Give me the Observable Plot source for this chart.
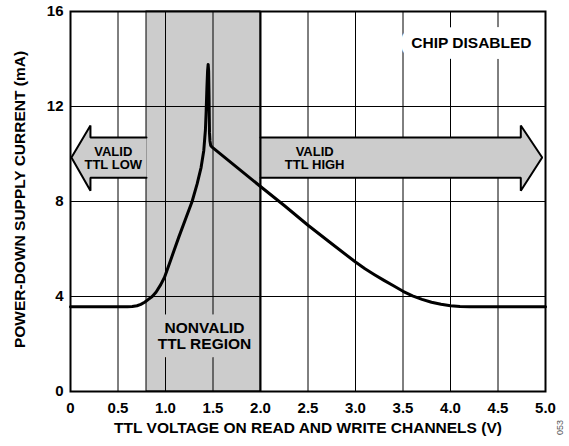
<!DOCTYPE html>
<html>
<head>
<meta charset="utf-8">
<script src="https://cdn.jsdelivr.net/npm/d3@7"></script>
<script src="https://cdn.jsdelivr.net/npm/@observablehq/plot@0.6"></script>
<style>
  html, body { margin: 0; padding: 0; background: #fff; }
</style>
</head>
<body>
<div id="chart"></div>
<script>
// Curve: power-down supply current (mA) vs TTL voltage (V)
const voltage = [0, 0.6, 0.65, 0.70, 0.74, 0.78, 0.82, 0.86, 0.90, 0.95, 0.99, 1.053, 1.14, 1.218, 1.28, 1.333, 1.375, 1.403, 1.414, 1.42, 1.428, 1.436, 1.443, 1.449, 1.454, 1.458, 1.461, 1.463, 1.468, 1.476, 1.49, 2.0, 2.25, 2.5, 2.75, 3.0, 3.1, 3.2, 3.3, 3.4, 3.5, 3.6, 3.7, 3.8, 3.9, 4.0, 4.1, 4.2, 5.0];
const current = [3.57, 3.57, 3.575, 3.61, 3.67, 3.76, 3.88, 4.0, 4.18, 4.5, 4.81, 5.52, 6.5, 7.34, 8.0, 8.74, 9.44, 10.15, 10.71, 11.0, 11.8, 12.8, 13.5, 13.77, 13.5, 12.5, 11.5, 10.9, 10.55, 10.36, 10.29, 8.63, 7.83, 7.0, 6.22, 5.45, 5.17, 4.92, 4.68, 4.45, 4.22, 4.03, 3.88, 3.76, 3.67, 3.61, 3.58, 3.57, 3.57];

// Axis ticks and grid
const xTicks = [0, 0.5, 1.0, 1.5, 2.0, 2.5, 3.0, 3.5, 4.0, 4.5, 5.0];
const yTicks = [0, 4, 8, 12, 16];
const xGrid = [0.5, 1.0, 1.5, 2.5, 3.0, 3.5, 4.0, 4.5];
const yGrid = [4, 8, 12];

// Nonvalid TTL region
const region = [{x1: 0.8, x2: 2.0}];

// Arrow outlines (data coordinates)
const leftArrow = [[0.8, 10.7], [0.21, 10.7], [0.21, 11.2], [0.01, 9.85], [0.21, 8.45], [0.21, 9.0], [0.8, 9.0]];
const rightArrow = [[2.0, 10.7], [4.74, 10.7], [4.74, 11.2], [4.965, 9.85], [4.74, 8.45], [4.74, 9.0], [2.0, 9.0]];

// Annotation labels
const arrowLabels = [
  {x: 0.45, y: 9.82, text: "VALID\nTTL LOW"},
  {x: 2.57, y: 9.82, text: "VALID\nTTL HIGH"}
];
const chipLabel = [{x: 4.22, y: 14.66, text: "CHIP DISABLED"}];
const regionLabel = [{x: 1.41, y: 2.33, text: "NONVALID\nTTL REGION"}];

const curve = voltage.map((v, i) => ({v, c: current[i]}));
const font = "'Liberation Sans', Arial, Helvetica, sans-serif";

const chart = Plot.plot({
  width: 569,
  height: 446,
  marginLeft: 70,
  marginRight: 24,
  marginTop: 11,
  marginBottom: 55,
  x: {domain: [0, 5]},
  y: {domain: [0, 16]},
  style: {fontFamily: font, fontWeight: "bold", background: "#fff", color: "#000", overflow: "visible"},
  marks: [
    Plot.rect(region, {x1: "x1", x2: "x2", y1: 0, y2: 16, fill: "#cccccc", stroke: "#000", strokeWidth: 1}),
    Plot.ruleX(xGrid, {stroke: "#000", strokeWidth: 1}),
    Plot.ruleY(yGrid, {stroke: "#000", strokeWidth: 1}),
    // arrows
    Plot.line(leftArrow, {x: d => d[0], y: d => d[1], fill: "#cccccc", stroke: "none", curve: "linear-closed"}),
    Plot.line(rightArrow, {x: d => d[0], y: d => d[1], fill: "#cccccc", stroke: "none", curve: "linear-closed"}),
    Plot.line(leftArrow, {x: d => d[0], y: d => d[1], stroke: "#000", strokeWidth: 2, strokeLinejoin: "miter"}),
    Plot.line(rightArrow, {x: d => d[0], y: d => d[1], stroke: "#000", strokeWidth: 2, strokeLinejoin: "miter"}),
    // label backgrounds (halo only)
    Plot.text(chipLabel, {x: "x", y: "y", text: "text", fontSize: 15.5, fill: "none", stroke: "#fff", strokeWidth: 22, strokeLinejoin: "round"}),
    Plot.text(regionLabel, {x: "x", y: "y", text: "text", fontSize: 15.5, lineHeight: 1.03, fill: "none", stroke: "#cccccc", strokeWidth: 17, strokeLinejoin: "round"}),
    Plot.ruleX([2.0], {stroke: "#000", strokeWidth: 2}),
    // labels
    Plot.text(arrowLabels, {x: "x", y: "y", text: "text", fontSize: 13, lineHeight: 1.04, fill: "#000"}),
    Plot.text(chipLabel, {x: "x", y: "y", text: "text", fontSize: 15.5, fill: "#000"}),
    Plot.text(regionLabel, {x: "x", y: "y", text: "text", fontSize: 15.5, lineHeight: 1.03, fill: "#000"}),
    // curve
    Plot.line(curve, {x: "v", y: "c", stroke: "#000", strokeWidth: 3, strokeLinejoin: "round", curve: "linear"}),
    Plot.frame({stroke: "#000", strokeWidth: 2}),
    // axes
    Plot.axisX(xTicks, {tickSize: 0, tickPadding: 11, fontSize: 15, fontWeight: "bold", tickFormat: d => d === 0 ? "0" : d.toFixed(1), label: null}),
    Plot.axisY(yTicks, {tickSize: 0, tickPadding: 7, fontSize: 15, fontWeight: "bold", label: null}),
    Plot.text(["TTL VOLTAGE ON READ AND WRITE CHANNELS (V)"], {frameAnchor: "bottom", dy: 41, fontSize: 15.5, fontWeight: "bold", fill: "#000"}),
    Plot.text(["POWER-DOWN SUPPLY CURRENT (mA)"], {frameAnchor: "left", textAnchor: "middle", dx: -50, dy: -2, rotate: -90, fontSize: 15.5, fontWeight: "bold", fill: "#000"}),
    Plot.text(["053"], {frameAnchor: "bottom-right", textAnchor: "middle", dx: 17, dy: 36, rotate: -90, fontSize: 9, fontWeight: "normal", fill: "#555"})
  ]
});
document.getElementById("chart").appendChild(chart);
</script>
</body>
</html>
